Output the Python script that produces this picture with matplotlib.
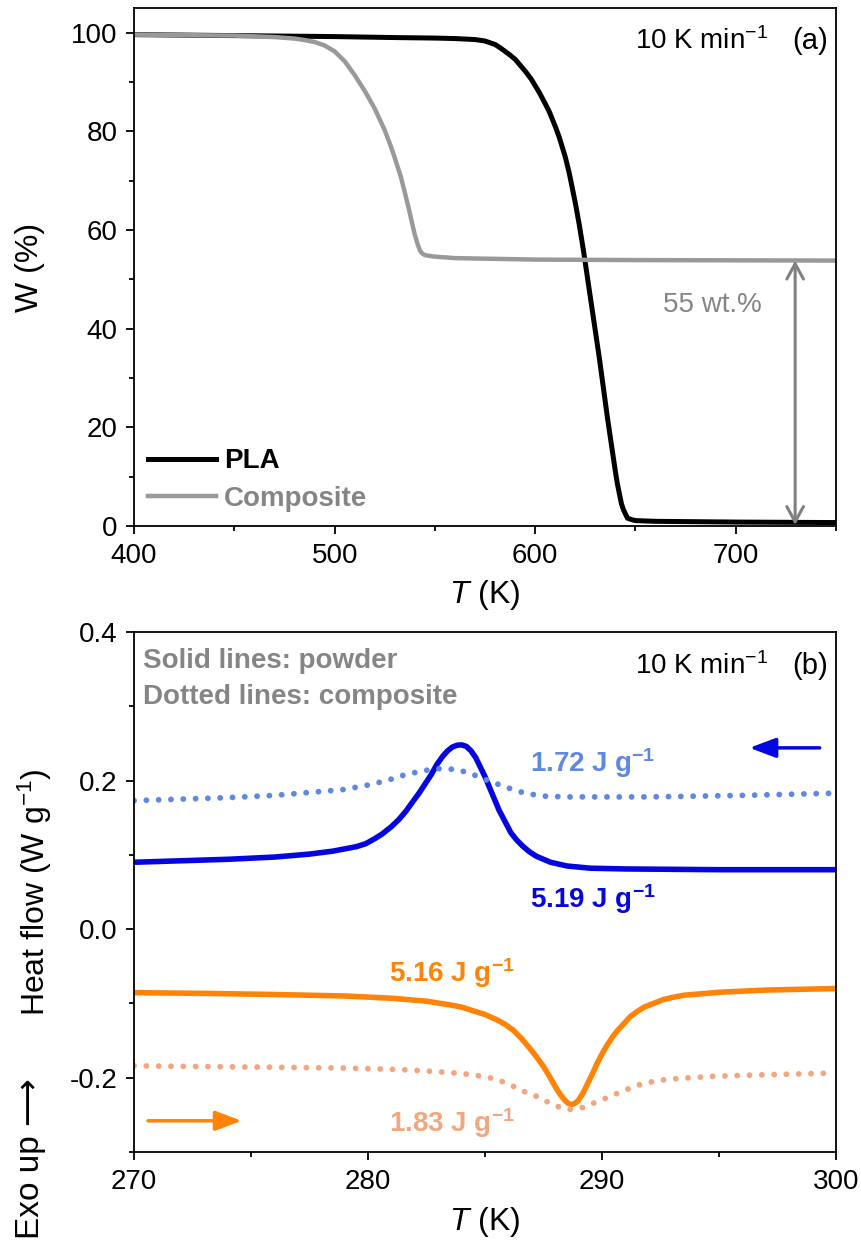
import matplotlib
matplotlib.use("Agg")
import matplotlib.pyplot as plt
from matplotlib.ticker import MultipleLocator

plt.rcParams["font.family"] = ["Liberation Sans", "DejaVu Sans"]
plt.rcParams["font.size"] = 20
plt.rcParams["axes.unicode_minus"] = False
plt.rcParams["mathtext.fontset"] = "custom"
plt.rcParams["mathtext.rm"] = "Liberation Sans"
plt.rcParams["mathtext.it"] = "Liberation Sans:italic"
plt.rcParams["mathtext.bf"] = "Liberation Sans:bold"
plt.rcParams["axes.linewidth"] = 1.3

# (a) TGA curves
pla_T = [400, 450, 500, 530, 550, 560, 570, 575, 580, 583, 587, 590, 595, 598, 602,
         605, 607, 610, 612, 615, 617, 620, 622, 624, 626, 628, 630, 632, 634, 636,
         638, 640, 641, 643, 644, 646, 648, 650, 653, 660, 700, 750]
pla_W = [99.6, 99.4, 99.2, 99.0, 98.9, 98.8, 98.6, 98.3, 97.6, 96.8, 95.6, 94.6, 92.2,
         90.6, 87.9, 85.6, 84.0, 81.0, 78.8, 74.8, 71.5, 65.5, 61.0, 56.0, 50.5, 45.0,
         39.5, 34.0, 28.0, 22.0, 16.5, 11.0, 8.5, 4.5, 3.3, 1.6, 1.3, 1.1, 1.05, 0.95,
         0.8, 0.7]
comp_T = [400, 450, 470, 480, 485, 490, 495, 500, 505, 510, 515, 520, 525, 528, 530,
          533, 535, 537, 538.5, 540, 541.5, 542.5, 543.5, 545, 548, 550, 560, 600, 650, 750]
comp_W = [99.6, 99.4, 99.1, 98.8, 98.5, 98.1, 97.4, 96.2, 94.2, 91.4, 88.2, 84.6, 80.2,
          77.0, 74.6, 70.8, 67.6, 64.3, 61.6, 59.0, 57.0, 55.9, 55.3, 54.9, 54.7, 54.6,
          54.3, 54.0, 53.9, 53.8]
residue = 53.8

# (b) DSC curves
cool_pow_T = [270, 272, 274, 276, 277.5, 278.5, 279.5, 279.9, 280.3, 280.6, 281,
              281.3, 281.6, 282.2, 282.45, 282.7, 282.95, 283.2, 283.4, 283.6, 283.8,
              284, 284.2, 284.4, 284.6, 284.8, 285.0, 285.2, 285.4, 285.6, 285.85,
              286.1, 286.35, 286.6, 286.9, 287.2, 287.5, 287.8, 288.5, 289.5, 291,
              295, 300]
cool_pow_H = [0.090, 0.092, 0.094, 0.097, 0.101, 0.105, 0.111, 0.115, 0.122, 0.128,
              0.138, 0.147, 0.158, 0.184, 0.196, 0.208, 0.222, 0.233, 0.240, 0.245,
              0.2475, 0.248, 0.246, 0.240, 0.231, 0.218, 0.205, 0.190, 0.175, 0.160,
              0.145, 0.130, 0.120, 0.112, 0.104, 0.098, 0.094, 0.090, 0.085, 0.082,
              0.081, 0.080, 0.080]
cool_comp_T = [270, 272, 274, 276, 277.5, 279, 280, 280.8, 281.5, 282.3, 283, 283.8,
               284.5, 285.2, 286, 286.7, 287.5, 288.5, 292, 296, 300]
cool_comp_H = [0.173, 0.175, 0.177, 0.180, 0.184, 0.188, 0.194, 0.200, 0.207, 0.213,
               0.216, 0.215, 0.208, 0.199, 0.190, 0.183, 0.179, 0.178, 0.178, 0.180, 0.183]
heat_pow_T = [270, 273, 276, 279, 281, 282.5, 283.5, 284.0, 284.5, 285.0, 285.5,
              285.85, 286.2, 286.55, 286.9, 287.2, 287.5, 287.75, 288, 288.2, 288.4,
              288.55, 288.7, 288.85, 289.0, 289.2, 289.4, 289.6, 289.8, 290.0, 290.2,
              290.45, 290.7, 291.0, 291.2, 291.5, 291.8, 292.2, 292.6, 293.0, 293.5,
              295, 297, 300]
heat_pow_H = [-0.0855, -0.0865, -0.088, -0.090, -0.093, -0.097, -0.102, -0.105,
              -0.110, -0.115, -0.122, -0.128, -0.136, -0.147, -0.160, -0.172, -0.185,
              -0.198, -0.212, -0.222, -0.230, -0.2345, -0.236, -0.2345, -0.230, -0.220,
              -0.207, -0.194, -0.180, -0.168, -0.157, -0.145, -0.135, -0.125, -0.118,
              -0.111, -0.105, -0.100, -0.095, -0.092, -0.089, -0.085, -0.082, -0.080]
heat_comp_T = [270, 273, 276, 279, 281.4, 283.5, 284.5, 285.5, 286.1, 286.7, 287.2,
               287.7, 288.2, 288.7, 289.2, 289.8, 290.3, 290.8, 291.35, 291.85, 292.8,
               294.8, 297, 299.6]
heat_comp_H = [-0.184, -0.185, -0.186, -0.187, -0.189, -0.193, -0.196, -0.202, -0.210,
               -0.219, -0.225, -0.233, -0.240, -0.243, -0.240, -0.232, -0.226, -0.219,
               -0.212, -0.207, -0.202, -0.198, -0.196, -0.194]

BLUE = "#0505e0"
LBLUE = "#5f88e4"
ORANGE = "#ff8306"
SALMON = "#f2a680"
GREY = "#999999"
TGREY = "#858585"
DOTS = (0, (0.01, 2.1))

fig = plt.figure(figsize=(8.62, 12.45), dpi=100)
ax1 = fig.add_axes([0.1555, 0.5775, 0.8144, 0.4161])
ax2 = fig.add_axes([0.1555, 0.0747, 0.8144, 0.4177])

for ax in (ax1, ax2):
    ax.tick_params(which="major", direction="out", length=6, width=1.3, labelsize=20, pad=6)
    ax.tick_params(which="minor", direction="out", length=3.6, width=1.3)

# ---- (a)
ax1.plot(pla_T, pla_W, color="black", lw=3.6, label="PLA")
ax1.plot(comp_T, comp_W, color=GREY, lw=3.2, label="Composite")
ax1.set_xlim(400, 750)
ax1.set_ylim(0, 105)
ax1.xaxis.set_major_locator(MultipleLocator(100))
ax1.xaxis.set_minor_locator(MultipleLocator(50))
ax1.yaxis.set_major_locator(MultipleLocator(20))
ax1.yaxis.set_minor_locator(MultipleLocator(10))
ax1.set_xlabel("$\\mathit{T}$ (K)", fontsize=23, va="center")
ax1.xaxis.set_label_coords(0.5, -0.133)
ax1.set_ylabel("W (%)", fontsize=23, va="center")
ax1.yaxis.set_label_coords(-0.148, 0.5)

leg = ax1.legend(loc="lower left", frameon=False, handlelength=2.45, handletextpad=0.3,
                 labelspacing=0.42, borderaxespad=0.2, borderpad=0.3,
                 prop={"weight": "bold", "size": 20})
leg.get_texts()[1].set_color(TGREY)

ax1.text(0.7137, 0.921, "10 K min$^{-1}$", transform=ax1.transAxes, fontsize=20, va="baseline")
ax1.text(0.9886, 0.921, "(a)", transform=ax1.transAxes, fontsize=21, va="baseline", ha="right")
ax1.text(0.7536, 0.413, "55 wt.%", transform=ax1.transAxes, fontsize=20, va="baseline", color=TGREY)
ax1.annotate("", xy=(729.6, 0.2), xytext=(729.6, residue),
             arrowprops=dict(arrowstyle="<->,head_length=0.55,head_width=0.3",
                             color="#808080", lw=2.2, mutation_scale=20,
                             shrinkA=0, shrinkB=0))

# ---- (b)
ax2.plot(cool_pow_T, cool_pow_H, color=BLUE, lw=4)
ax2.plot(cool_comp_T, cool_comp_H, color=LBLUE, lw=4.2, linestyle=DOTS,
         dash_capstyle="round")
ax2.plot(heat_pow_T, heat_pow_H, color=ORANGE, lw=4)
ax2.plot(heat_comp_T, heat_comp_H, color=SALMON, lw=4.2, linestyle=DOTS,
         dash_capstyle="round")
ax2.set_xlim(270, 300)
ax2.set_ylim(-0.3, 0.4)
ax2.xaxis.set_major_locator(MultipleLocator(10))
ax2.xaxis.set_minor_locator(MultipleLocator(5))
ax2.yaxis.set_major_locator(MultipleLocator(0.2))
ax2.yaxis.set_minor_locator(MultipleLocator(0.1))
ax2.yaxis.set_major_formatter(plt.FormatStrFormatter("%.1f"))
ax2.set_xlabel("$\\mathit{T}$ (K)", fontsize=23, va="center")
ax2.xaxis.set_label_coords(0.5, -0.135)
ax2.set_ylabel("Heat flow (W g$^{-1}$)", fontsize=23, va="center")
ax2.yaxis.set_label_coords(-0.141, 0.5)
fig.text(31 / 862, 86 / 1245, "Exo up \u27f6", rotation=90, fontsize=24,
         ha="center", va="center")

ax2.text(0.0128, 0.931, "Solid lines: powder", transform=ax2.transAxes, fontsize=20,
         fontweight="bold", color=TGREY, va="baseline")
ax2.text(0.0128, 0.8615, "Dotted lines: composite", transform=ax2.transAxes, fontsize=20,
         fontweight="bold", color=TGREY, va="baseline")
ax2.text(0.7137, 0.919, "10 K min$^{-1}$", transform=ax2.transAxes, fontsize=20, va="baseline")
ax2.text(0.9886, 0.919, "(b)", transform=ax2.transAxes, fontsize=21, va="baseline", ha="right")

ax2.text(0.564, (1152 - 772) / 520, "1.72 J g$^{\\mathbf{-1}}$", transform=ax2.transAxes,
         fontsize=20, fontweight="bold", color=LBLUE, va="baseline")
ax2.text(0.564, (1152 - 908) / 520, "5.19 J g$^{\\mathbf{-1}}$", transform=ax2.transAxes,
         fontsize=20, fontweight="bold", color=BLUE, va="baseline")
ax2.text(0.3632, (1152 - 982) / 520, "5.16 J g$^{\\mathbf{-1}}$", transform=ax2.transAxes,
         fontsize=20, fontweight="bold", color=ORANGE, va="baseline")
ax2.text(0.3632, (1152 - 1132) / 520, "1.83 J g$^{\\mathbf{-1}}$", transform=ax2.transAxes,
         fontsize=20, fontweight="bold", color=SALMON, va="baseline")

ax2.annotate("", xy=(296.3, 0.244), xytext=(299.3, 0.244),
             arrowprops=dict(arrowstyle="-|>,head_length=0.8,head_width=0.3",
                             color=BLUE, lw=2.5, mutation_scale=20, shrinkA=0, shrinkB=0))
ax2.annotate("", xy=(274.6, -0.258), xytext=(270.6, -0.258),
             arrowprops=dict(arrowstyle="-|>,head_length=0.8,head_width=0.3",
                             color=ORANGE, lw=2.5, mutation_scale=20, shrinkA=0, shrinkB=0))

fig.savefig("out.png", dpi=100)
